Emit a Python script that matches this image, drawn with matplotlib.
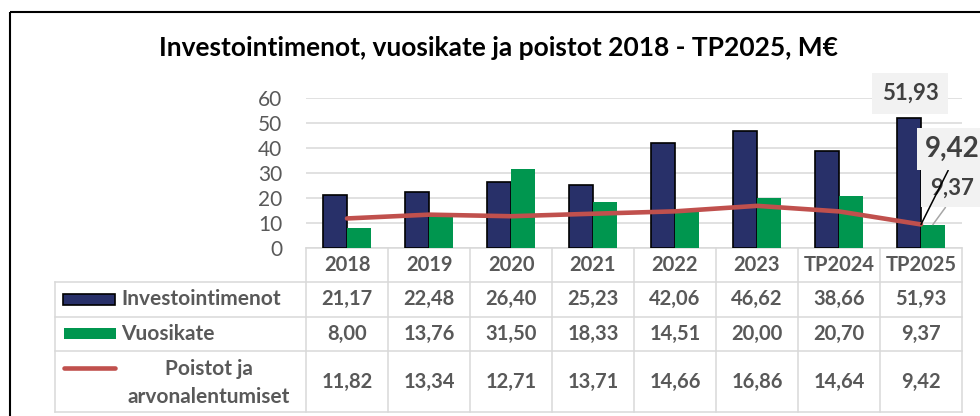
import matplotlib.pyplot as plt
import matplotlib.transforms as mtransforms
import numpy as np

# DATA
years = ['2018', '2019', '2020', '2021', '2022', '2023', 'TP2024', 'TP2025']
investoinnit = [21.17, 22.48, 26.40, 25.23, 42.06, 46.62, 38.66, 51.93]
vuosikate = [8.00, 13.76, 31.50, 18.33, 14.51, 20.00, 20.70, 9.37]
poistot = [11.82, 13.34, 12.71, 13.71, 14.66, 16.86, 14.64, 9.42]
series_names = ['Investointimenot', 'Vuosikate', 'Poistot ja\narvonalentumiset']
yticks = [0, 10, 20, 30, 40, 50, 60]

navy = '#283069'
green = '#00964F'
red = '#C0504D'
grid_col = '#D9D9D9'
txt_col = '#595959'


def fi(v):
    return f'{v:.2f}'.replace('.', ',')


plt.rcParams['font.family'] = ['Lato', 'DejaVu Sans']

fig = plt.figure(figsize=(9.8, 4.16), dpi=100)

# overlay axes in pixel coords (for table rows and frame)
tax = fig.add_axes([0, 0, 1, 1], zorder=0)
tax.set_xlim(0, 980)
tax.set_ylim(416, 0)
tax.set_axis_off()

# outer frame
tax.add_patch(plt.Rectangle((10, 12), 1000, 420, fill=False, ec='black', lw=1.5, clip_on=False))

fig.text(498 / 980, 1 - 48 / 416, 'Investointimenot, vuosikate ja poistot 2018 - TP2025, M€',
         ha='center', va='center', fontsize=19, fontweight='bold', color='black')

# main chart
ax = fig.add_axes([306 / 980, 1 - 248 / 416, 656 / 980, 150 / 416], zorder=2)
ax.patch.set_alpha(0)
x = np.arange(len(years))
w = 0.29
ax.bar(x - w / 2, investoinnit, w, color=navy, edgecolor='black', lw=1.2, zorder=2)
ax.bar(x + w / 2, vuosikate, w, color=green, lw=0, zorder=2)
ax.plot(x, poistot, color=red, lw=3.3, solid_capstyle='round', zorder=3)

ax.set_xlim(-0.5, len(years) - 0.5)
ax.set_ylim(0, 60)
ax.set_yticks(yticks)
ax.set_xticks([])
ax.tick_params(axis='y', length=0, pad=17, labelsize=15, labelcolor=txt_col)
ax.grid(axis='y', color=grid_col, lw=1.1, zorder=0)
for s in ax.spines.values():
    s.set_visible(False)

# data labels for TP2025
last = len(years) - 1
ax.text(6.866, 62, fi(investoinnit[last]), ha='center', va='center', fontsize=16,
        fontweight='bold', color='#404040', clip_on=False,
        bbox=dict(boxstyle='square,pad=0.45', fc='#F2F2F2', ec='none'))
ax.annotate(fi(vuosikate[last]), xy=(last + w / 2, vuosikate[last]), xytext=(7.11, 24),
            ha='left', va='center', fontsize=16, fontweight='bold', color='#404040',
            annotation_clip=False, zorder=4,
            bbox=dict(boxstyle='square,pad=0.4', fc='#F2F2F2', ec='none'),
            arrowprops=dict(arrowstyle='-', color='#A6A6A6', lw=1.1, relpos=(0.5, 0),
                            shrinkA=0, shrinkB=0))
ax.annotate(fi(poistot[last]), xy=(last, poistot[last]), xytext=(7.049, 39.6),
            ha='left', va='center', fontsize=20, fontweight='bold', color='#404040',
            annotation_clip=False, zorder=5,
            bbox=dict(boxstyle='square,pad=0.3', fc='#F2F2F2', ec='none'),
            arrowprops=dict(arrowstyle='-', color='black', lw=1.1, relpos=(0.5, 0),
                            shrinkA=0, shrinkB=0))

# data table below the chart
tr = mtransforms.blended_transform_factory(ax.transData, tax.transData)
rows = [248, 282, 316.5, 351, 412]
left = -0.5 - 251 / 82
right = len(years) - 0.5
lkw = dict(color=grid_col, lw=1.1, transform=tr, clip_on=False, zorder=1)
tax.plot([-0.5, right], [rows[0], rows[0]], **lkw)
for yy in rows[1:]:
    tax.plot([left, right], [yy, yy], **lkw)
tax.plot([left, left], [rows[1], rows[-1]], **lkw)
for i in range(len(years) + 1):
    tax.plot([i - 0.5, i - 0.5], [rows[0], rows[-1]], **lkw)

tkw = dict(ha='center', va='center', fontsize=14.5, fontweight='bold', color=txt_col,
           transform=tr)
for i, yr in enumerate(years):
    tax.text(i, (rows[0] + rows[1]) / 2, yr, **tkw)
for r, vals in enumerate([investoinnit, vuosikate, poistot]):
    yc = (rows[r + 1] + rows[r + 2]) / 2
    for i, v in enumerate(vals):
        tax.text(i, yc, fi(v), **tkw)

# legend keys and row labels
tax.add_patch(plt.Rectangle((63, 293.5), 52, 11, fc=navy, ec='black', lw=1.2))
tax.add_patch(plt.Rectangle((64, 328), 52, 11, fc=green, ec='none'))
tax.plot([64, 115], [368, 368], color=red, lw=3.3, solid_capstyle='round')
tax.text(121, 299, series_names[0], ha='left', va='center', fontsize=15,
         fontweight='bold', color=txt_col)
tax.text(121, 333.5, series_names[1], ha='left', va='center', fontsize=15,
         fontweight='bold', color=txt_col)
tax.text(209, 383, series_names[2], ha='center', va='center', fontsize=15,
         fontweight='bold', color=txt_col, linespacing=1.45, multialignment='center')

fig.savefig('out.png', dpi=100)
